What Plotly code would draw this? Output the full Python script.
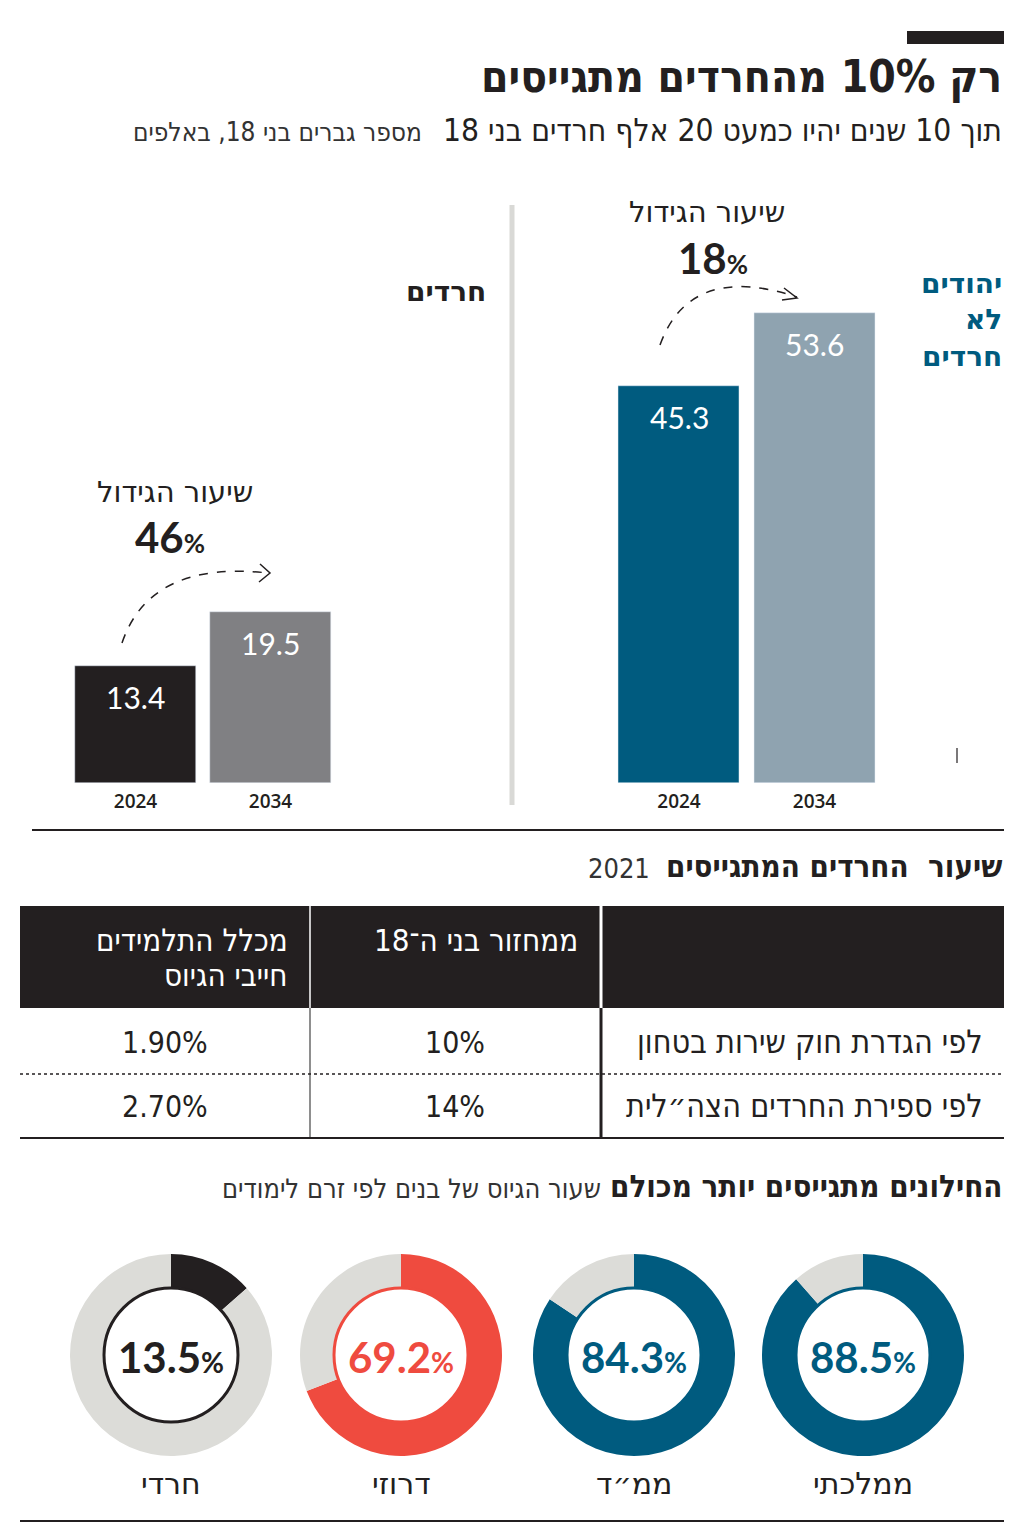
import plotly.graph_objects as go

W, H = 1024, 1526
OFF = 8  # page body margin of the written html
def X(x): return (x - OFF) / W
def Y(y): return 1 - (y - OFF) / H

# ---------------- data ----------------
years = ["2024", "2034"]
haredi_vals = [13.4, 19.5]
nonharedi_vals = [45.3, 53.6]
growth_haredi = "46"
growth_nonharedi = "18"

table_headers = ["ממחזור בני ה־18", "מכלל התלמידים", "חייבי הגיוס"]
table_rows = ["לפי הגדרת חוק שירות בטחון", "לפי ספירת החרדים הצה״לית"]
cohort_vals = ["10%", "14%"]
all_students_vals = ["1.90%", "2.70%"]

donut_labels = ["ממלכתי", "ממ״ד", "דרוזי", "חרדי"]
donut_vals = [88.5, 84.3, 69.2, 13.5]

# ---------------- styles ----------------
TEAL = "#005b7f"
GREYBLUE = "#8fa3b0"
BLACK = "#231f20"
GREY = "#808083"
LIGHT = "#dcdcd8"
RED = "#ef4b3f"
HEB = "DejaVu Sans Condensed, DejaVu Sans, sans-serif"
HEB_REG = "DejaVu Sans, Liberation Sans, sans-serif"
NUM = "Lato, Open Sans, sans-serif"

fig = go.Figure()

# bars
fig.add_trace(go.Bar(x=[0, 1], y=haredi_vals, marker_color=[BLACK, GREY], width=0.896,
                     xaxis="x", yaxis="y", hoverinfo="skip", showlegend=False))
fig.add_trace(go.Bar(x=[0, 1], y=nonharedi_vals, marker_color=[TEAL, GREYBLUE], width=0.896,
                     xaxis="x2", yaxis="y", hoverinfo="skip", showlegend=False))

ann = []
for xa, vals in (("x", haredi_vals), ("x2", nonharedi_vals)):
    for i, v in enumerate(vals):
        ann.append(dict(x=i, y=v, xref=xa, yref="y", text=f"{v:.1f}", showarrow=False,
                        yanchor="top", yshift=-11, font=dict(family=NUM, size=30, color="white")))

# donuts
donut_cx = [863, 634, 401, 171]
donut_main = [TEAL, TEAL, RED, BLACK]
R = 101
for lab, v, cx, col in zip(donut_labels, donut_vals, donut_cx, donut_main):
    fig.add_trace(go.Pie(values=[v, 100 - v], marker=dict(colors=[col, LIGHT], line=dict(width=0)),
                         hole=0.67, sort=False, direction="clockwise", rotation=0,
                         textinfo="none", hoverinfo="skip", showlegend=False,
                         domain=dict(x=[X(cx - R), X(cx + R)], y=[Y(1355 + R), Y(1355 - R)])))
    ann.append(dict(x=X(cx), y=Y(1357), xref="paper", yref="paper", showarrow=False,
                    text=f"<b>{v:.1f}</b><span style='font-size:28px'><b>%</b></span>",
                    font=dict(family=NUM, size=42, color=col), xanchor="center", yanchor="middle"))
    ann.append(dict(x=X(cx), y=Y(1483), xref="paper", yref="paper", showarrow=False,
                    text=lab, font=dict(family=HEB_REG, size=30, color=BLACK),
                    xanchor="center", yanchor="middle"))

shapes = []
for cx, col in zip(donut_cx, donut_main):
    r = 67
    shapes.append(dict(type="circle", xref="paper", yref="paper",
                       x0=X(cx - r), x1=X(cx + r), y0=Y(1355 + r), y1=Y(1355 - r),
                       line=dict(color=col, width=3)))

def line(x0, y0, x1, y1, color=BLACK, width=2, dash=None):
    d = dict(type="line", xref="paper", yref="paper", x0=X(x0), y0=Y(y0), x1=X(x1), y1=Y(y1),
             line=dict(color=color, width=width))
    if dash:
        d["line"]["dash"] = dash
    shapes.append(d)

def rect(x0, y0, x1, y1, color):
    shapes.append(dict(type="rect", xref="paper", yref="paper", x0=X(x0), y0=Y(y0), x1=X(x1), y1=Y(y1),
                       fillcolor=color, line=dict(width=0), layer="below"))

def path(cmd, width=1.5, dash=None):
    d = dict(type="path", xref="paper", yref="paper", path=cmd, line=dict(color=BLACK, width=width))
    if dash:
        d["line"]["dash"] = dash
    shapes.append(d)

def P(x, y): return f"{X(x):.5f},{Y(y):.5f}"

# top bar
rect(907, 31, 1004, 44, BLACK)
# divider
line(512, 205, 512, 805, color="#d9d9d6", width=5)
# bottom line of bar section
line(32, 830, 1004, 830, width=2)
# tick mark
line(957, 748, 957, 763, width=1.2)

# arcs
path(f"M {P(660,345)} Q {P(690,262)} {P(797,297)}", dash="dash")
path(f"M {P(784,288)} L {P(797,298)} L {P(782,300)}")
path(f"M {P(122,643)} Q {P(150,560)} {P(268,573)}", dash="dash")
path(f"M {P(260,564)} L {P(270,573)} L {P(259,582)}")

# table
rect(20, 906, 1004, 1008, BLACK)
line(310, 906, 310, 1008, color="white", width=1.5)
line(601, 906, 601, 1008, color="white", width=3)
line(310, 1008, 310, 1138, color="#444", width=1.2)
line(601, 1008, 601, 1138, color=BLACK, width=3)
line(20, 1074, 1004, 1074, color=BLACK, width=1.5, dash="dot")
line(20, 1138, 1004, 1138, width=2)
# final line
line(20, 1521, 1004, 1521, width=2)

def txt(x, y, text, size, color=BLACK, family=HEB, anchor="right", bold=False):
    ann.append(dict(x=X(x), y=Y(y), xref="paper", yref="paper", showarrow=False,
                    text=(f"<b>{text}</b>" if bold else text), xanchor=anchor, yanchor="middle",
                    align="right", font=dict(family=family, size=size, color=color)))

# titles
txt(1004, 77, "רק 10% מהחרדים מתגייסים", 44, bold=True)
txt(1004, 130, "תוך 10 שנים יהיו כמעט 20 אלף חרדים בני 18", 31.5)
txt(424, 132, "מספר גברים בני 18, באלפים", 26, color="#333")

# bar labels
txt(488, 291, "חרדים", 28, bold=True, family=HEB_REG)
txt(1004, 320, "יהודים<br>לא<br>חרדים", 28, color=TEAL, bold=True, family=HEB_REG)
txt(707, 212, "שיעור הגידול", 29, family=HEB_REG, anchor="center")
txt(175, 492, "שיעור הגידול", 29, family=HEB_REG, anchor="center")
ann.append(dict(x=X(713), y=Y(258), xref="paper", yref="paper", showarrow=False,
                text=f"<b>{growth_nonharedi}</b><span style='font-size:26px'><b>%</b></span>",
                font=dict(family=NUM, size=42, color=BLACK), xanchor="center", yanchor="middle"))
ann.append(dict(x=X(170), y=Y(537), xref="paper", yref="paper", showarrow=False,
                text=f"<b>{growth_haredi}</b><span style='font-size:26px'><b>%</b></span>",
                font=dict(family=NUM, size=42, color=BLACK), xanchor="center", yanchor="middle"))

# section 2
txt(1004, 866, "שיעור  החרדים המתגייסים", 31, bold=True)
txt(652, 868, "2021", 27, color="#333")
# table text
txt(580, 940, table_headers[0], 31, color="white")
txt(290, 940, table_headers[1], 31, color="white")
txt(290, 975, table_headers[2], 31, color="white")
row_y = [1042, 1106]
for i, yy in enumerate(row_y):
    txt(985, yy, table_rows[i], 32)
    txt(455, yy, cohort_vals[i], 30, anchor="center")
    txt(165, yy, all_students_vals[i], 30, anchor="center")

# section 3
txt(1004, 1186, "החילונים מתגייסים יותר מכולם", 31, bold=True)
txt(603, 1188, "שעור הגיוס של בנים לפי זרם לימודים", 27, color="#333")

axis_common = dict(range=[-0.5, 1.5], tickvals=[0, 1], ticktext=years, showgrid=False,
                   zeroline=False, showline=False, ticks="", anchor="y", fixedrange=True,
                   ticklabelstandoff=5,
                   tickfont=dict(family="Open Sans, sans-serif", size=19, color=BLACK, weight=600))
fig.update_layout(
    width=W, height=H, margin=dict(l=0, r=0, t=0, b=0),
    paper_bgcolor="white", plot_bgcolor="rgba(0,0,0,0)",
    xaxis=dict(domain=[X(68), X(338)], **axis_common),
    xaxis2=dict(domain=[X(611.25), X(882.25)], **axis_common),
    yaxis=dict(domain=[Y(783), Y(200)], range=[0, 583 / 8.769], visible=False, fixedrange=True),
    bargap=0, shapes=shapes, annotations=ann, showlegend=False,
)
fig.write_html("out.html")
